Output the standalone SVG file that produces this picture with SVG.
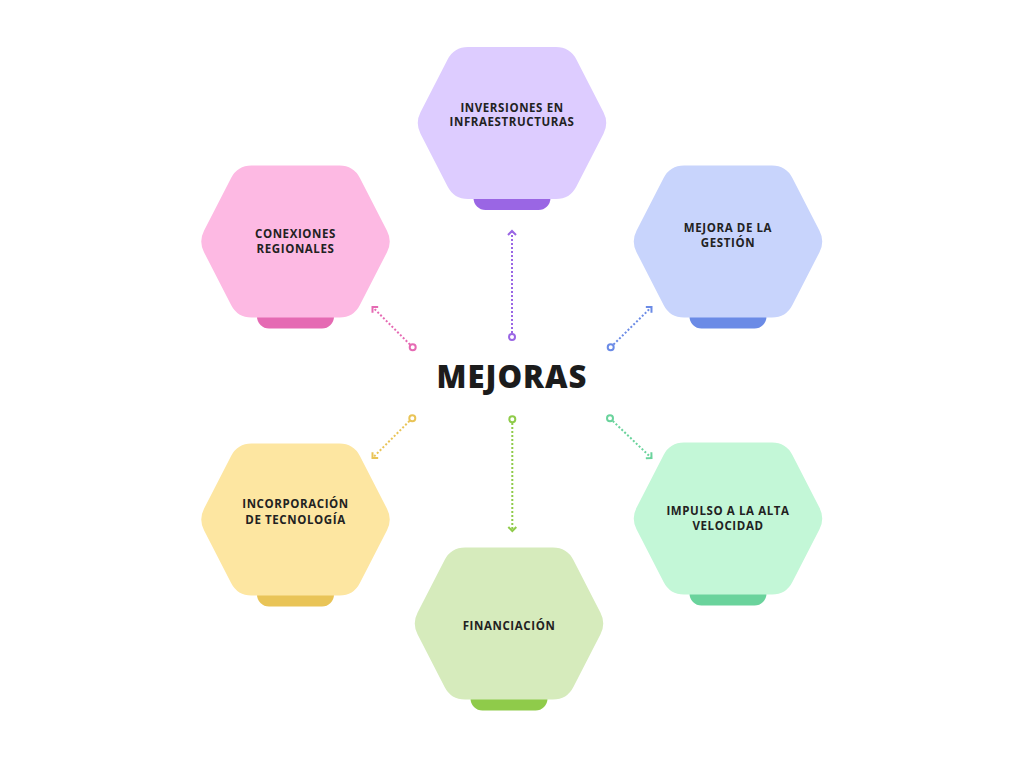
<svg xmlns="http://www.w3.org/2000/svg" width="1024" height="768" viewBox="0 0 1024 768">
<defs>
<style>
.lbl{font-family:"Open Sans","Liberation Sans",sans-serif;font-weight:700;font-size:11.5px;letter-spacing:0.6px;fill:#222222;text-anchor:middle}
.title{font-family:"Open Sans","Liberation Sans",sans-serif;font-weight:800;font-size:31px;letter-spacing:1px;fill:#1c1c1c;text-anchor:middle}
.con{fill:none;stroke-width:2;stroke-dasharray:2 2}
.dot{fill:#ffffff;stroke-width:2}
</style>
<path id="hex" d="M -91.5,-10.7 L -64.4,-63.5 Q -58,-76 -44,-76 L 44,-76 Q 58,-76 64.4,-63.5 L 91.5,-10.7 Q 97,0 91.5,10.7 L 64.4,63.5 Q 58,76 44,76 L -44,76 Q -58,76 -64.4,63.5 L -91.5,10.7 Q -97,0 -91.5,-10.7 Z"/>
<rect id="tab" x="-38.5" y="60" width="77" height="27" rx="12"/>
<marker id="aP" markerWidth="10" markerHeight="10" refX="5" refY="5" orient="auto" markerUnits="userSpaceOnUse"><path d="M1,1 L5,5 L1,9" fill="none" stroke="#9a66e4" stroke-width="2"/></marker>
<marker id="aK" markerWidth="10" markerHeight="10" refX="5" refY="5" orient="auto" markerUnits="userSpaceOnUse"><path d="M1,1 L5,5 L1,9" fill="none" stroke="#e56ab3" stroke-width="2"/></marker>
<marker id="aB" markerWidth="10" markerHeight="10" refX="5" refY="5" orient="auto" markerUnits="userSpaceOnUse"><path d="M1,1 L5,5 L1,9" fill="none" stroke="#6b8be6" stroke-width="2"/></marker>
<marker id="aY" markerWidth="10" markerHeight="10" refX="5" refY="5" orient="auto" markerUnits="userSpaceOnUse"><path d="M1,1 L5,5 L1,9" fill="none" stroke="#e9c457" stroke-width="2"/></marker>
<marker id="aG" markerWidth="10" markerHeight="10" refX="5" refY="5" orient="auto" markerUnits="userSpaceOnUse"><path d="M1,1 L5,5 L1,9" fill="none" stroke="#8fcb4a" stroke-width="2"/></marker>
<marker id="aM" markerWidth="10" markerHeight="10" refX="5" refY="5" orient="auto" markerUnits="userSpaceOnUse"><path d="M1,1 L5,5 L1,9" fill="none" stroke="#6ad39c" stroke-width="2"/></marker>
</defs>
<rect width="1024" height="768" fill="#ffffff"/>

<g id="node-inversiones" transform="translate(512,123)">
<use href="#tab" fill="#9a66e4"/>
<use href="#hex" fill="#ddccff"/>
<text class="lbl" x="0" y="-11.3">INVERSIONES EN</text>
<text class="lbl" x="0" y="3">INFRAESTRUCTURAS</text>
</g>

<g id="node-conexiones" transform="translate(295.5,241.5)">
<use href="#tab" fill="#e56ab3"/>
<use href="#hex" fill="#fdb9e3"/>
<text class="lbl" x="0" y="-3.2">CONEXIONES</text>
<text class="lbl" x="0" y="11.2">REGIONALES</text>
</g>

<g id="node-gestion" transform="translate(728,241.5)">
<use href="#tab" fill="#6b8be6"/>
<use href="#hex" fill="#c8d4fc"/>
<text class="lbl" x="0" y="-9.5">MEJORA DE LA</text>
<text class="lbl" x="0" y="5.5">GESTIÓN</text>
</g>

<g id="node-tecnologia" transform="translate(295.5,519.5)">
<use href="#tab" fill="#e9c457"/>
<use href="#hex" fill="#fde6a1"/>
<text class="lbl" x="0" y="-12">INCORPORACIÓN</text>
<text class="lbl" x="0" y="4">DE TECNOLOGÍA</text>
</g>

<g id="node-financiacion" transform="translate(509,623.5)">
<use href="#tab" fill="#8fcb4a"/>
<use href="#hex" fill="#d6ebbc"/>
<text class="lbl" x="0" y="6.5">FINANCIACIÓN</text>
</g>

<g id="node-velocidad" transform="translate(728,518.5)">
<use href="#tab" fill="#6ad39c"/>
<use href="#hex" fill="#c3f7d7"/>
<text class="lbl" x="0" y="-3.5">IMPULSO A LA ALTA</text>
<text class="lbl" x="0" y="11.5">VELOCIDAD</text>
</g>

<g id="center">
<text class="title" x="512" y="388.3">MEJORAS</text>
</g>

<g id="connectors">
<line class="con" x1="512" y1="333" x2="512" y2="231" stroke="#9a66e4" marker-end="url(#aP)"/>
<circle class="dot" cx="512" cy="337" r="3" stroke="#9a66e4"/>
<line class="con" x1="410" y1="344.5" x2="372.5" y2="307" stroke="#e56ab3" marker-end="url(#aK)"/>
<circle class="dot" cx="412.7" cy="347.3" r="3" stroke="#e56ab3"/>
<line class="con" x1="613.5" y1="344.5" x2="651.5" y2="307" stroke="#6b8be6" marker-end="url(#aB)"/>
<circle class="dot" cx="610.7" cy="347.3" r="3" stroke="#6b8be6"/>
<line class="con" x1="409.5" y1="421" x2="372.5" y2="458" stroke="#e9c457" marker-end="url(#aY)"/>
<circle class="dot" cx="412.3" cy="418.3" r="3" stroke="#e9c457"/>
<line class="con" x1="512.3" y1="423" x2="512.3" y2="531" stroke="#8fcb4a" marker-end="url(#aG)"/>
<circle class="dot" cx="512.3" cy="419.3" r="3" stroke="#8fcb4a"/>
<line class="con" x1="612.8" y1="421" x2="651.5" y2="458" stroke="#6ad39c" marker-end="url(#aM)"/>
<circle class="dot" cx="610" cy="418.3" r="3" stroke="#6ad39c"/>
</g>
</svg>
